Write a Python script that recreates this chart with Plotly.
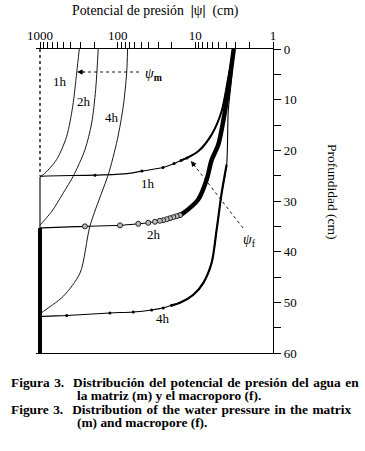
import plotly.graph_objects as go

# ---------------- data (|psi| in cm, depth in cm) ----------------
# matrix potential (psi_m), thin curves
m1h_depth = [0, 4.7, 11.3, 17.2, 21.8, 24.8, 25.1]
m1h_psi = [312, 337, 379, 453, 610, 907, 1000]
m2h_depth = [0, 8, 14.6, 19.9, 25.1, 28.4, 32.0, 34.4, 34.8]
m2h_psi = [178, 192, 216, 264, 373, 501, 701, 951, 1000]
m4h_depth = [0, 4.7, 11.3, 17.9, 24.8, 28.4, 35.0, 44.2, 48.8, 51.8, 52.3]
m4h_psi = [74.5, 76.6, 84.7, 101, 132, 161, 228, 305, 501, 907, 1000]

# macropore potential (psi_f), heavy curves
f1h_depth = [0, 5.7, 12.3, 16.9, 20.2, 21.5, 22.0, 22.6, 23.4, 24.1, 24.6, 24.9, 25.1, 25.2, 60]
f1h_psi = [3.2, 3.77, 4.59, 6.17, 9.18, 12.8, 15.3, 18.8, 26.1, 48.7, 76.6, 196, 951, 1000, 1000]
f2h_depth = [0, 5.7, 12.3, 18.9, 21.9, 25.8, 29.7, 32.4, 32.8, 33.0, 33.2, 33.4, 33.6, 33.8,
             33.9, 34.1, 34.3, 34.5, 34.8, 35.0, 35.3, 35.35, 60]
f2h_psi = [3.2, 3.59, 4.16, 5.07, 6.17, 7.16, 9.18, 14.3, 15.8, 17.4, 19.2, 21.2, 23.4, 25.9,
           28.6, 33.1, 40.4, 54.3, 93.3, 264, 951, 1000, 1000]
f4h_depth = [0, 5.7, 12.3, 22.8, 28.5, 35.7, 42.2, 46.2, 48.5, 50.1, 50.6, 51.1, 51.5, 51.9,
             52.1, 52.6, 52.8, 52.9, 60]
f4h_psi = [3.2, 3.41, 3.77, 3.95, 4.59, 5.32, 6.17, 7.91, 10.6, 15.8, 20.2, 25.9, 36.5, 63,
           126, 453, 951, 1000, 1000]

# node markers visible on the flat parts
f1h_mark_depth = [21.5, 22.0, 22.6, 23.4, 24.1, 24.9]
f1h_mark_psi = [12.8, 15.3, 18.8, 26.1, 48.7, 196]
f2h_mark_depth = [32.8, 33.0, 33.2, 33.4, 33.6, 33.8, 33.9, 34.1, 34.3, 34.5, 34.8, 35.0]
f2h_mark_psi = [15.8, 17.4, 19.2, 21.2, 23.4, 25.9, 28.6, 33.1, 40.4, 54.3, 93.3, 264]
f4h_mark_depth = [50.6, 51.1, 51.5, 51.9, 52.1, 52.6]
f4h_mark_psi = [20.2, 25.9, 36.5, 63, 126, 453]

psi_limit = 1000
x_tick_vals = [m * 10 ** e for e in range(0, 3) for m in range(1, 10)] + [1000]
x_major = {1: "1", 10: "10", 100: "100", 1000: "1000"}
y_tick_vals = list(range(0, 61, 5))

FONT = "Liberation Serif"
W, H = 365, 451
L, R, T, B = 36, 273, 49, 353


def pp(x, y):
    return (x - L) / (R - L), (B - y) / (B - T)


fig = go.Figure()


def line(x, y, width, shape="spline"):
    fig.add_trace(go.Scatter(x=x, y=y, mode="lines", hoverinfo="skip",
                             line=dict(color="black", width=width, shape=shape, smoothing=0.8)))


def dots(x, y, **marker):
    fig.add_trace(go.Scatter(x=x, y=y, mode="markers", hoverinfo="skip", marker=marker))


for d, p in [(m1h_depth, m1h_psi), (m2h_depth, m2h_psi), (m4h_depth, m4h_psi)]:
    line(p, d, 0.9)


def fcurve(p, d, base_w):
    n = p.index(psi_limit)
    line(p[:n + 1], d[:n + 1], base_w)
    line(p[n:], d[n:], base_w, shape="linear")


# 1h macropore
fcurve(f1h_psi, f1h_depth, 1.1)
line(f1h_psi[:7], f1h_depth[:7], 2.0)
dots(f1h_mark_psi, f1h_mark_depth, color="black", size=3)
# 2h macropore
fcurve(f2h_psi, f2h_depth, 1.1)
line(f2h_psi[:10], f2h_depth[:10], 4.5)
line(f2h_psi[-2:], f2h_depth[-2:], 4, shape="linear")
dots(f2h_mark_psi, f2h_mark_depth, symbol="circle", color="#bbbbbb", size=5,
     line=dict(color="#222", width=1))
# 4h macropore
fcurve(f4h_psi, f4h_depth, 1.1)
line(f4h_psi[3:11], f4h_depth[3:11], 2.2)
dots(f4h_mark_psi, f4h_mark_depth, color="black", size=3)

fig.update_traces(showlegend=False)

fig.update_layout(
    width=W, height=H,
    margin=dict(l=L, r=W - R, t=T, b=H - B, autoexpand=False),
    paper_bgcolor="white", plot_bgcolor="white",
    font=dict(family=FONT, size=13, color="black"),
    xaxis=dict(type="log", range=[3.0515, 0], side="top", showgrid=False, zeroline=False,
               automargin=False, ticklabelstandoff=-3,
               showline=True, linecolor="black", linewidth=1.2, mirror=True,
               ticks="outside", ticklen=6, tickwidth=1, tickcolor="black",
               tickvals=x_tick_vals, ticktext=[x_major.get(v, "") for v in x_tick_vals],
               tickfont=dict(family=FONT, size=13)),
    yaxis=dict(range=[60, 0], side="right", showgrid=False, zeroline=False,
               automargin=False,
               showline=True, linecolor="black", linewidth=1.2,
               ticks="outside", ticklen=7, tickwidth=1, tickcolor="black",
               tickvals=y_tick_vals,
               ticktext=[str(v) if v % 10 == 0 else "" for v in y_tick_vals],
               tickfont=dict(family=FONT, size=13)),
)

# dotted left boundary
fig.add_shape(type="line", xref="x", yref="y", x0=psi_limit, x1=psi_limit, y0=0, y1=25,
              line=dict(color="black", width=1.3, dash="dot"))

ann = []


def txt(x, y, s, size=13, **kw):
    px, py = pp(x, y)
    d = dict(x=px, y=py, xref="paper", yref="paper", text=s, showarrow=False,
             xanchor="center", yanchor="middle",
             font=dict(family=FONT, size=size, color="black"))
    d.update(kw)
    ann.append(d)


txt(155, 11, "Potencial de presión  <b>|</b>ψ<b>|</b>  (cm)", size=13.8)
txt(333, 192, "Profundidad (cm)", size=13.5, textangle=90)

txt(60, 81, "1h")
txt(84, 101, "2h")
txt(112, 117, "4h")
txt(148, 183, "1h")
txt(154, 234, "2h")
txt(163, 318, "4h")
txt(153, 74, "<i>ψ</i><sub><b>m</b></sub>", size=14)
txt(249, 240, "<i>ψ</i><sub>f</sub>", size=14)

# dotted arrows
for (x0, y0, x1, y1) in [(139, 72, 80, 72), (243, 228, 194, 165)]:
    a0, b0 = pp(x0, y0)
    a1, b1 = pp(x1, y1)
    fig.add_shape(type="line", xref="paper", yref="paper", x0=a0, y0=b0, x1=a1, y1=b1,
                  line=dict(color="black", width=0.9, dash="dot"))
hx, hy = pp(77, 72)
ann.append(dict(x=hx, y=hy, xref="paper", yref="paper", text="", showarrow=True,
                arrowhead=2, arrowsize=1.1, arrowwidth=1, ax=9, ay=0, arrowcolor="black"))
hx, hy = pp(191, 161)
ann.append(dict(x=hx, y=hy, xref="paper", yref="paper", text="", showarrow=True,
                arrowhead=2, arrowsize=1.1, arrowwidth=1, ax=5.5, ay=7.2, arrowcolor="black"))

HS = "\u200a"
cap = [
    (9, 382, "Figura 3.  Distribución del potencial de presión del agua en", HS),
    (75, 395.5, "la matriz (m) y el macroporo (f).", ""),
    (9, 409, "Figure 3.  Distribution of the water pressure in the matrix", HS),
    (75, 422.5, "(m) and macropore (f).", ""),
]
for x, y, s, gap in cap:
    txt(x, y, "<b>" + s.replace(" ", " " + gap) + "</b>", size=13.4, xanchor="left")

fig.update_layout(annotations=ann)
fig.write_html("out.html", config={"displayModeBar": False},
               post_script="document.body.style.margin='0';")
